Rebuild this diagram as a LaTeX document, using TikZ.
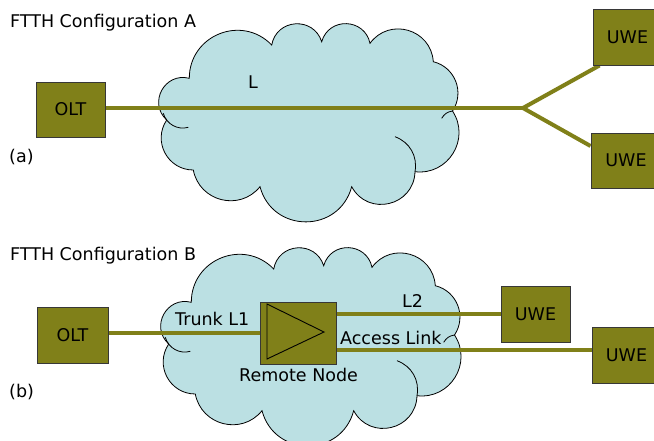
\documentclass[tikz,border=0pt]{standalone}
\usepackage{fontspec}
\setmainfont{DejaVu Sans}
\usetikzlibrary{calc}
\definecolor{olivefill}{RGB}{128,128,25}
\definecolor{cloudfill}{RGB}{187,224,227}
\definecolor{boxline}{RGB}{55,55,55}
% circular-arc lobe from #1 to #2, tangent-chord angle #3
\newcommand\bmp[3]{.. controls ($(#1)!1/(3*cos(#3/2)*cos(#3/2))!#3:(#2)$) and ($(#2)!1/(3*cos(#3/2)*cos(#3/2))!-#3:(#1)$) .. (#2)}
\newcommand\mycloud[2]{%
  \begin{scope}[shift={#2}]
    \coordinate (#1c1) at (189.3,78.3);
    \coordinate (#1c2) at (271.7,45);
    \coordinate (#1c3) at (321.7,41.7);
    \coordinate (#1c4) at (370,43.3);
    \coordinate (#1c5) at (433.3,61.7);
    \coordinate (#1c6) at (452.5,111);
    \coordinate (#1c7) at (415,171.7);
    \coordinate (#1c8) at (351.7,186.7);
    \coordinate (#1c9) at (260,186.7);
    \coordinate (#1c10) at (193.3,170);
    \coordinate (#1c11) at (166.7,120);
    \coordinate (#1l1) at (163.3,113.3);
    \coordinate (#1l2) at (188.3,127.3);
    \coordinate (#1r1) at (441.7,118.3);
    \coordinate (#1b1) at (395,136.7);
  \end{scope}
  \draw[cloudline] (#1c1) \bmp{#1c1}{#1c2}{68} \bmp{#1c2}{#1c3}{76}
    \bmp{#1c3}{#1c4}{76} \bmp{#1c4}{#1c5}{70} \bmp{#1c5}{#1c6}{55}
    \bmp{#1c6}{#1c7}{65} \bmp{#1c7}{#1c8}{75} \bmp{#1c8}{#1c9}{75}
    \bmp{#1c9}{#1c10}{65} \bmp{#1c10}{#1c11}{62} \bmp{#1c11}{#1c1}{76} -- cycle;
  \draw[innerline] (#1l1) to[bend right=45] (#1l2);
  \draw[innerline] (#1r1) to[bend left=25] (#1c6);
  \draw[innerline] (#1b1) to[bend left=40] (#1c7);
}
\begin{document}
\begin{tikzpicture}[x=1pt,y=-1pt,
  cloudline/.style={draw=black, fill=cloudfill, line width=0.8pt},
  innerline/.style={draw=black, line width=0.8pt},
  fiber/.style={draw=olivefill, line width=4pt},
  box/.style={draw=boxline, fill=olivefill, line width=0.9pt, inner sep=0pt,
    font=\fontsize{17.5}{20}\selectfont},
  lbl/.style={anchor=base west, inner sep=0pt, font=\fontsize{17.5}{20}\selectfont}]
\useasboundingbox (0,0) rectangle (654,440);
% clouds
\mycloud{A}{(0,0)}
\mycloud{B}{(2,224)}
% nodes (configuration A)
\coordinate (J) at (523,108);
\node[box, minimum width=69pt, minimum height=55pt] (olta) at (70.5,109.5) {OLT};
\node[box, minimum width=69pt, minimum height=56pt] (uwea1) at (627.5,37) {UWE};
\node[box, minimum width=70pt, minimum height=55pt] (uwea2) at (626,160.5) {UWE};
% nodes (configuration B)
\node[box, minimum width=71pt, minimum height=56pt] (oltb) at (72.5,335) {OLT};
\node[box, minimum width=76pt, minimum height=62pt] (rn) at (298,333) {};
\node[box, minimum width=69pt, minimum height=56pt] (uweb1) at (535.5,314) {UWE};
\node[box, minimum width=69pt, minimum height=56pt] (uweb2) at (626.5,355) {UWE};
% fibres
\draw[fiber] (olta.east |- J) -- (J);
\draw[fiber] (J) -- ($(uwea1.south west)+(7,0)$);
\draw[fiber] (J) -- ($(uwea2.west)+(0,-14.5)$);
\draw[fiber] (oltb.east |- rn.west) -- (rn.west);
\draw[fiber] (rn.east |- uweb1.west) -- (uweb1.west);
\draw[fiber] (rn.east |- 0,350) -- (uweb2.west |- 0,350);
% redraw boxes on top of fibres
\node[box, minimum width=69pt, minimum height=55pt] at (olta) {OLT};
\node[box, minimum width=69pt, minimum height=56pt] at (uwea1) {UWE};
\node[box, minimum width=70pt, minimum height=55pt] at (uwea2) {UWE};
\node[box, minimum width=71pt, minimum height=56pt] at (oltb) {OLT};
\node[box, minimum width=76pt, minimum height=62pt] at (rn) {};
\node[box, minimum width=69pt, minimum height=56pt] at (uweb1) {UWE};
\node[box, minimum width=69pt, minimum height=56pt] at (uweb2) {UWE};
% amplifier triangle
\draw[line width=0.9pt] ($(rn.center)+(-31,-29)$) -- ($(rn.center)+(-31,26)$) -- ($(rn.center)+(26,-1)$) -- cycle;
% labels
\node[lbl] (ta) at (10,27) {FTTH Configuration A};
\node[lbl] (la) at (9,162) {(a)};
\node[lbl] (ll) at (248,88) {L};
\node[lbl] (tb) at (10,260) {FTTH Configuration B};
\node[lbl] (lb) at (9,397) {(b)};
\node[lbl] (tr) at (175,325) {Trunk L1};
\node[lbl] (rnl) at (239,381.5) {Remote Node};
\node[lbl] (l2) at (402,307.5) {L2};
\node[lbl] (al) at (340,344) {Access Link};
\end{tikzpicture}
\end{document}
